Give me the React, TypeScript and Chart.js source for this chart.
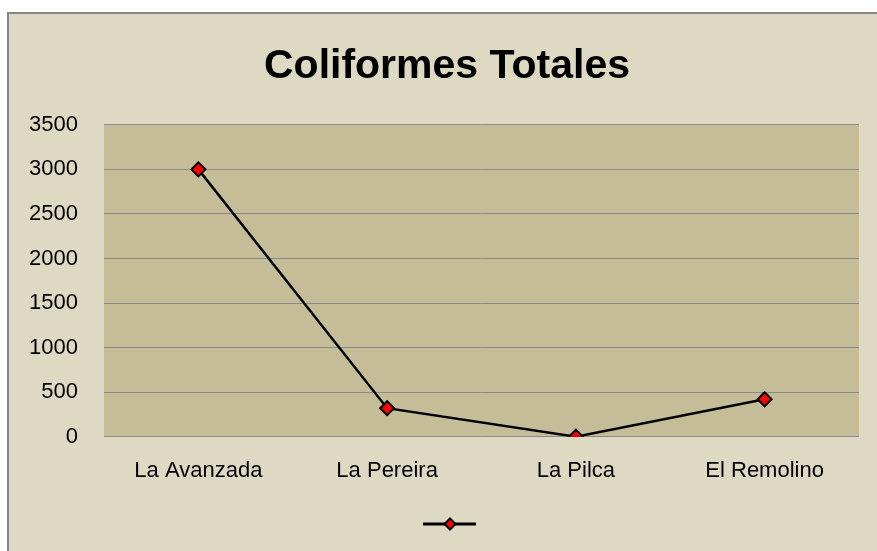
import React, { useEffect, useRef } from "react";
import { Chart, registerables } from "chart.js";

Chart.register(...registerables);

const TITLE = "Coliformes Totales";
const categories = ["La Avanzada", "La Pereira", "La Pilca", "El Remolino"];
const values = [3000, 320, 0, 420];
const yMin = 0;
const yMax = 3500;
const yStep = 500;

function makeLegendImage(): HTMLCanvasElement {
  const c = document.createElement("canvas");
  c.width = 68;
  c.height = 16;
  const ctx = c.getContext("2d")!;
  const cx = 40;
  ctx.strokeStyle = "#000";
  ctx.lineWidth = 3;
  ctx.beginPath();
  ctx.moveTo(cx - 27, 8);
  ctx.lineTo(cx + 26, 8);
  ctx.stroke();
  ctx.beginPath();
  ctx.moveTo(cx, 2.5);
  ctx.lineTo(cx + 5.5, 8);
  ctx.lineTo(cx, 13.5);
  ctx.lineTo(cx - 5.5, 8);
  ctx.closePath();
  ctx.fillStyle = "#ff0000";
  ctx.fill();
  ctx.lineWidth = 2;
  ctx.stroke();
  return c;
}

const bgPlugin = {
  id: "bgPlugin",
  beforeDraw(chart: any) {
    const { ctx, width, height, chartArea } = chart;
    ctx.save();
    ctx.fillStyle = "#ffffff";
    ctx.fillRect(0, 0, width, height);
    ctx.fillStyle = "#DDD9C3";
    ctx.fillRect(7, 12, width, height);
    ctx.strokeStyle = "#868686";
    ctx.lineWidth = 2;
    ctx.beginPath();
    ctx.moveTo(8, height + 5);
    ctx.lineTo(8, 13);
    ctx.lineTo(width + 5, 13);
    ctx.stroke();
    ctx.fillStyle = "#C4BD97";
    ctx.fillRect(chartArea.left, chartArea.top, chartArea.right - chartArea.left, chartArea.bottom - chartArea.top);
    ctx.restore();
  },
};

export default function App() {
  const ref = useRef<HTMLCanvasElement | null>(null);
  useEffect(() => {
    if (!ref.current) return;
    const legendImg = makeLegendImage();
    const chart = new Chart(ref.current, {
      type: "line",
      data: {
        labels: categories,
        datasets: [
          {
            label: "",
            data: values,
            borderColor: "#000000",
            borderWidth: 2.5,
            pointStyle: "rectRot",
            pointRadius: 7,
            pointBorderWidth: 2,
            pointBackgroundColor: "#ff0000",
            pointBorderColor: "#000000",
            tension: 0,
          },
        ],
      },
      options: {
        animation: false,
        responsive: false,
        maintainAspectRatio: false,
        layout: { padding: { left: 17, right: 0, top: 0, bottom: 11 } },
        plugins: {
          tooltip: { enabled: false },
          title: {
            display: true,
            text: TITLE,
            color: "#000000",
            font: { family: "'Liberation Sans', Arial, sans-serif", size: 41, weight: "bold" },
            padding: { top: 42, bottom: 33.6 },
          },
          legend: {
            display: true,
            position: "bottom",
            labels: {
              usePointStyle: true,
              pointStyleWidth: 56,
              padding: 10,
              font: { size: 12 },
              generateLabels: () => [
                {
                  text: "",
                  pointStyle: legendImg as any,
                  fillStyle: "#ff0000",
                  strokeStyle: "#000",
                  lineWidth: 2,
                  hidden: false,
                  datasetIndex: 0,
                } as any,
              ],
            },
          },
        },
        scales: {
          x: {
            type: "category",
            offset: true,
            grid: { display: false, drawTicks: false },
            border: { display: false },
            ticks: {
              color: "#000000",
              padding: 21,
              maxRotation: 0,
              font: { family: "'Liberation Sans', Arial, sans-serif", size: 22 },
            },
            afterFit: (s: any) => {
              s.height = 71.3;
            },
          },
          y: {
            min: yMin,
            max: yMax,
            grid: { color: "#8a8a8a", lineWidth: 1, drawTicks: false },
            border: { display: false },
            ticks: {
              stepSize: yStep,
              color: "#000000",
              padding: 26,
              font: { family: "'Liberation Sans', Arial, sans-serif", size: 22 },
              callback: (v: any) => String(v),
            },
            afterFit: (s: any) => {
              s.width = 87;
            },
          },
          yRight: {
            position: "right",
            display: true,
            min: 0,
            max: 1,
            grid: { display: false, drawTicks: false },
            border: { display: false },
            ticks: { display: false },
            afterFit: (s: any) => {
              s.width = 18;
            },
          },
        },
      },
      plugins: [bgPlugin],
    });
    return () => chart.destroy();
  }, []);
  return (
    <div style={{ position: "absolute", left: 0, top: 0, width: 877, height: 551 }}>
      <canvas ref={ref} width={877} height={551} style={{ width: 877, height: 551, display: "block" }} />
    </div>
  );
}
